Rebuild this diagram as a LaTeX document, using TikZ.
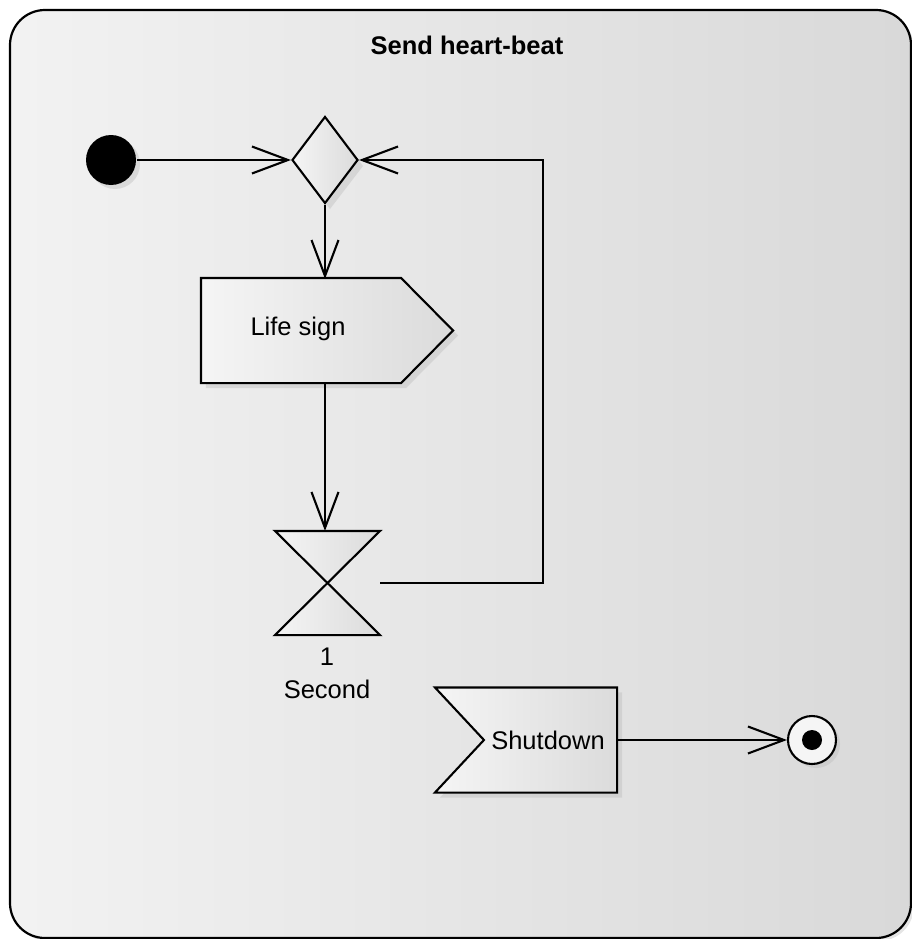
\documentclass[tikz,border=0pt]{standalone}
\usepackage{fontspec}
\setmainfont{Liberation Sans}
\usetikzlibrary{arrows.meta,shapes.geometric,calc}
\begin{document}
\begin{tikzpicture}[x=1pt,y=-1pt,
  line width=2.1pt,
  every node/.style={font=\fontsize{25.5}{33}\selectfont},
  shapefill/.style={left color=white!96!black, right color=white!86!black, shading angle=90},
  shadowfill/.style={fill=black!25, opacity=0.45, draw=none},
  flow/.style={-{Straight Barb[length=36pt,width=27pt]}},
  initialnode/.style={circle, fill=black, minimum size=50pt, inner sep=0pt},
  decision/.style={diamond, draw, shapefill, minimum width=66pt, minimum height=87pt, inner sep=0pt},
  finalnode/.style={circle, draw, fill=white!96!black, minimum size=48pt, inner sep=0pt},
  anchorbox/.style={draw=none, inner sep=0pt}
]
\useasboundingbox (0,0) rectangle (912,939);
% frame
\fill[black!20, opacity=0.5, rounded corners=35pt] (13,13) rectangle (914,941);
\draw[line width=2.2pt, rounded corners=35pt, left color=white!95!black, right color=white!85!black]
  (10,10) rectangle (911,938);
\node[font=\fontsize{25.5}{30}\selectfont\bfseries] (title) at (467,45) {Send heart-beat};

% initial node
\fill[shadowfill] (115,164) circle (25pt);
\node[initialnode] (start) at (111,160) {};

% decision / merge
\fill[shadowfill] (330,122) -- (363,166) -- (330,209) -- (297,166) -- cycle;
\node[decision] (merge) at (325,160) {};

% Life sign (send signal)
\node[anchorbox, minimum width=250pt, minimum height=103pt] (lifebox) at (327,330.5) {};
\fill[shadowfill] ($(lifebox.north west)+(5,5)$) -- ($(lifebox.north east)+(-52+5,5)$)
  -- ($(lifebox.east)+(5,5)$) -- ($(lifebox.south east)+(-52+5,5)$) -- ($(lifebox.south west)+(5,5)$) -- cycle;
\draw[shapefill] (lifebox.north west) -- ($(lifebox.north east)+(-52,0)$) -- (lifebox.east)
  -- ($(lifebox.south east)+(-52,0)$) -- (lifebox.south west) -- cycle;
\node (lifetext) at (298,329) {Life sign};
\coordinate (lifetop) at (325,279);
\coordinate (lifebot) at (325,382);

% timer (hourglass)
\node[anchorbox, minimum width=103pt, minimum height=102pt] (timer) at (327.5,583) {};
\draw[shapefill] (timer.north west) -- (timer.north east) -- (timer.south west) -- (timer.south east) -- cycle;
\node[align=center] (timerlabel) at (327,673) {1\\Second};

% Shutdown (accept event)
\node[anchorbox, minimum width=180pt, minimum height=103pt] (shut) at (526,740) {};
\fill[shadowfill] ($(shut.north west)+(5,5)$) -- ($(shut.north east)+(5,5)$) -- ($(shut.south east)+(5,5)$)
  -- ($(shut.south west)+(5,5)$) -- ($(shut.west)+(54,5)$) -- cycle;
\draw[shapefill] (shut.north west) -- (shut.north east) -- (shut.south east) -- (shut.south west)
  -- ($(shut.west)+(49,0)$) -- cycle;
\node (shuttext) at (548,740) {Shutdown};

% final node
\fill[shadowfill] (816,744) circle (24pt);
\node[finalnode] (final) at (812,740) {};
\fill (final.center) circle (10pt);

% connectors
\coordinate (loopx) at (543,350);
\draw[flow] (start) -- (merge.west);
\draw[flow] (merge.south) -- (lifetop);
\draw[flow] (lifebot) -- (lifebot |- timer.north);
\draw[flow] (timer.east) -| (loopx) |- (merge.east);
\draw[flow] (shut.east) -- (final.west);
\end{tikzpicture}
\end{document}
